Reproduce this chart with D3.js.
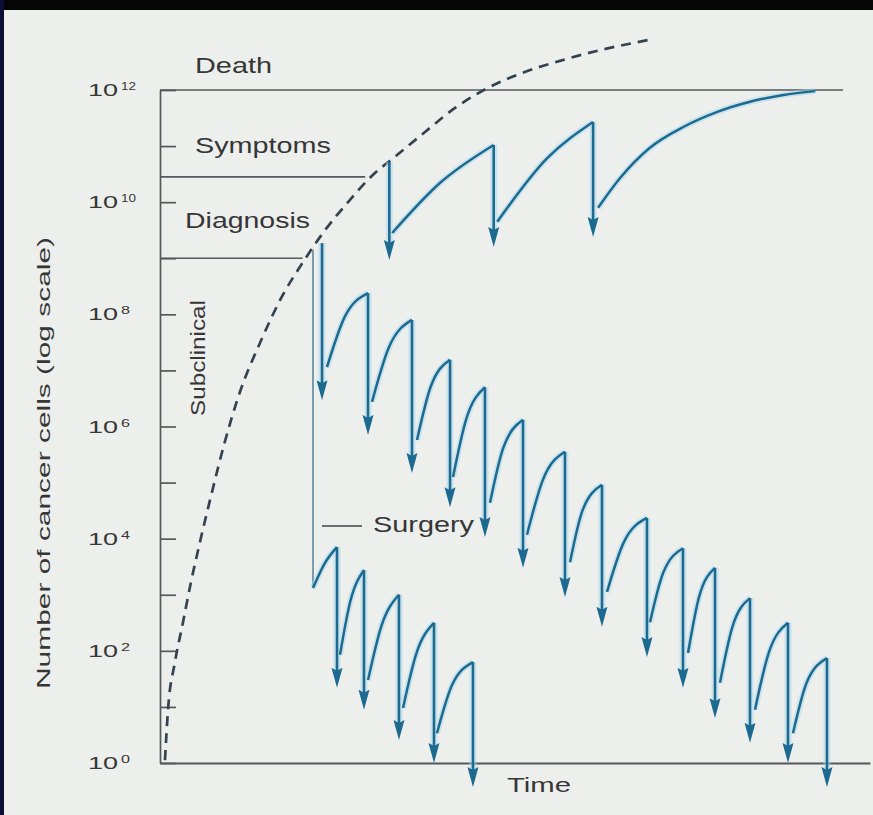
<!DOCTYPE html>
<html><head><meta charset="utf-8">
<script src="https://cdn.jsdelivr.net/npm/d3@7"></script>
<style>body{margin:0;background:#fff}svg{display:block}</style>
</head><body>
<svg id="chart" width="873" height="815"></svg>
<script>
// ---------- DATA (time in arbitrary units, values as log10 of cell number) ----------
const tickExponents = [0, 2, 4, 6, 8, 10, 12];
const allExponents = [0,1,2,3,4,5,6,7,8,9,10,11,12];

// untreated (dashed) growth curve
const untreatedT = [0.70, 1.13, 2.11, 3.24, 4.37, 5.63, 7.32, 9.01, 11.27, 14.08, 17.32, 20.14, 23.24, 26.48, 29.86, 33.38, 37.32, 41.55, 45.63, 50.70, 56.34, 61.97, 68.73];
const untreatedL = [0.05, 0.95, 1.80, 2.51, 3.23, 3.94, 4.83, 5.67, 6.62, 7.49, 8.35, 8.93, 9.50, 10.00, 10.47, 10.84, 11.25, 11.68, 12.00, 12.29, 12.52, 12.71, 12.89];

// reference levels
const deathL = 12, symptomsL = 10.45, diagnosisL = 9.0;
const deathEndT = 96.2, symptomsEndT = 28.9, diagnosisEndT = 20.1;

// chemotherapy started at symptoms (top series)
const topArrowT    = [32.3, 47.0, 61.0];
const topArrowFrom = [10.72, 11.02, 11.43];
const topArrowTo   = [8.97, 9.20, 9.38];
const topStartT = [32.7, 47.5];
const topStartL = [9.45, 9.65];
const topMidT   = [39.5, 54.5];
const topMidL   = [10.35, 10.78];
const topFinalT = [61.7, 64.8, 69.0, 73.7, 78.5, 83.1, 87.8, 92.3];
const topFinalL = [9.90, 10.43, 10.97, 11.34, 11.61, 11.79, 11.91, 11.98];

// chemotherapy started at diagnosis (middle series)
const midArrowT    = [22.82, 29.30, 35.49, 40.85, 45.77, 51.13, 57.04, 62.25, 68.59, 73.66, 78.17, 83.10, 88.45, 93.94];
const midArrowFrom = [9.27, 8.38, 7.90, 7.19, 6.70, 6.12, 5.55, 4.96, 4.37, 3.83, 3.48, 2.94, 2.50, 1.87];
const midArrowTo   = [6.47, 5.85, 5.17, 4.56, 4.03, 3.48, 2.96, 2.43, 1.89, 1.34, 0.80, 0.36, 0.00, -0.43];
const midStartT = [23.52, 29.86, 36.20, 41.27, 46.48, 51.69, 57.75, 62.96, 69.01, 74.37, 78.87, 83.80, 89.15];
const midStartL = [7.06, 6.44, 5.76, 5.10, 4.64, 4.07, 3.58, 3.05, 2.51, 1.96, 1.43, 0.95, 0.53];
const midMidT   = [26.0, 32.2, 38.1, 43.1, 48.3, 53.9, 59.5, 65.3, 70.9, 75.9, 80.6, 85.7, 91.1];
const midMidL   = [7.95, 7.40, 6.70, 6.12, 5.60, 5.04, 4.50, 3.93, 3.40, 2.95, 2.42, 1.95, 1.44];

// surgery followed by chemotherapy (bottom series)
const surgeryT = 21.55, surgeryFrom = 9.15, surgeryTo = 3.12;
const botArrowT    = [24.93, 28.73, 33.66, 38.59, 44.08];
const botArrowFrom = [3.85, 3.44, 3.00, 2.50, 1.80];
const botArrowTo   = [1.34, 0.95, 0.41, 0.00, -0.43];
const botStartT = [21.55, 25.35, 29.30, 34.23, 39.01];
const botStartL = [3.12, 1.93, 1.48, 0.98, 0.53];
const botMidT   = [23.24, 26.8, 31.2, 36.1, 41.1];
const botMidL   = [3.57, 2.88, 2.45, 1.95, 1.38];

// ---------- DRAWING ----------
const W = 873, H = 815;
const blue = "#1d6a91", glow = "#a6d8ec", ink = "#363636", lineGray = "#55595b";
const svg = d3.select("#chart");
svg.append("rect").attr("width", W).attr("height", H).attr("fill", "#edefed");
// scan frame (top and left edges)
svg.append("rect").attr("x", 0).attr("y", 0).attr("width", W).attr("height", 10).attr("fill", "#050505");
svg.append("rect").attr("x", 0).attr("y", 0).attr("width", 4).attr("height", H).attr("fill", "#0c0c36");

const x = d3.scaleLinear().domain([0, 100]).range([160, 870]);
const y = d3.scaleLog().domain([1, 1e12]).range([763, 90]);
const Y = L => y(Math.pow(10, L));
const font = "'Liberation Sans', Arial, Helvetica, sans-serif";

const defs = svg.append("defs");
defs.append("marker").attr("id", "ah").attr("viewBox", "0 -6 20 12")
  .attr("refX", 10).attr("refY", 0).attr("markerWidth", 20).attr("markerHeight", 12)
  .attr("markerUnits", "userSpaceOnUse").attr("orient", "auto")
  .append("path").attr("d", "M0,-5.5L20,0L0,5.5L3,0Z").attr("fill", blue);

// axes
const yAxis = d3.axisLeft(y).tickValues(allExponents.map(e => Math.pow(10, e)))
  .tickSize(-16).tickSizeOuter(0).tickFormat(() => "");
const gy = svg.append("g").attr("transform", `translate(${x(0)},0)`).call(yAxis);
gy.selectAll("path,line").attr("stroke", lineGray).attr("stroke-width", 1.7);

const xAxis = d3.axisBottom(x).tickValues([]).tickSizeOuter(0);
const gx = svg.append("g").attr("transform", `translate(0,${y(1)})`).call(xAxis);
gx.selectAll("path").attr("stroke", lineGray).attr("stroke-width", 1.9);

// tick labels 10^n
tickExponents.forEach(e => {
  const t = svg.append("text").attr("x", 88).attr("y", Y(e) + 6)
    .attr("font-family", font).attr("fill", ink);
  t.append("tspan").attr("font-size", 17).attr("textLength", 30).attr("lengthAdjust", "spacingAndGlyphs").text("10");
  t.append("tspan").attr("font-size", 11).attr("dx", 3).attr("dy", -6)
    .attr("textLength", String(e).length > 1 ? 15 : 9).attr("lengthAdjust", "spacingAndGlyphs").text(String(e));
});

// threshold lines
[[deathL, deathEndT], [symptomsL, symptomsEndT], [diagnosisL, diagnosisEndT]].forEach(([L, tEnd]) => {
  svg.append("line").attr("x1", x(0)).attr("x2", x(tEnd)).attr("y1", Y(L)).attr("y2", Y(L))
    .attr("stroke", lineGray).attr("stroke-width", 1.7);
});

// untreated dashed curve
const line = d3.line().x(d => x(d[0])).y(d => Y(d[1])).curve(d3.curveMonotoneX);
svg.append("path").datum(untreatedT.map((t, i) => [t, untreatedL[i]]))
  .attr("d", line).attr("fill", "none").attr("stroke", "#34434d")
  .attr("stroke-width", 2.7).attr("stroke-dasharray", "10,7");

// surgery vertical line
svg.append("line").attr("x1", x(surgeryT)).attr("x2", x(surgeryT))
  .attr("y1", Y(surgeryFrom)).attr("y2", Y(surgeryTo))
  .attr("stroke", "#6f93a4").attr("stroke-width", 1.8);

// collect regrowth curves
const curves = [];
topStartT.forEach((t, i) => curves.push([[t, topStartL[i]], [topMidT[i], topMidL[i]], [topArrowT[i + 1], topArrowFrom[i + 1]]]));
curves.push(topFinalT.map((t, i) => [t, topFinalL[i]]));
midStartT.forEach((t, i) => curves.push([[t, midStartL[i]], [midMidT[i], midMidL[i]], [midArrowT[i + 1], midArrowFrom[i + 1]]]));
botStartT.forEach((t, i) => curves.push([[t, botStartL[i]], [botMidT[i], botMidL[i]], [botArrowT[i], botArrowFrom[i]]]));

const arrows = [];
topArrowT.forEach((t, i) => arrows.push([t, topArrowFrom[i], topArrowTo[i]]));
midArrowT.forEach((t, i) => arrows.push([t, midArrowFrom[i], midArrowTo[i]]));
botArrowT.forEach((t, i) => arrows.push([t, botArrowFrom[i], botArrowTo[i]]));

const curveLine = d3.line().x(d => x(d[0])).y(d => Y(d[1])).curve(d3.curveMonotoneX);

// glow layer
const gGlow = svg.append("g").attr("opacity", 0.5);
gGlow.selectAll("path").data(curves).join("path").attr("d", curveLine)
  .attr("fill", "none").attr("stroke", glow).attr("stroke-width", 6);
gGlow.selectAll("line").data(arrows).join("line")
  .attr("x1", d => x(d[0])).attr("x2", d => x(d[0]))
  .attr("y1", d => Y(d[1])).attr("y2", d => Y(d[2]) - 12)
  .attr("stroke", glow).attr("stroke-width", 7);

// main layer
const gMain = svg.append("g");
gMain.selectAll("path").data(curves).join("path").attr("d", curveLine)
  .attr("fill", "none").attr("stroke", blue).attr("stroke-width", 2.5);
gMain.selectAll("line").data(arrows).join("line")
  .attr("x1", d => x(d[0])).attr("x2", d => x(d[0]))
  .attr("y1", d => Y(d[1])).attr("y2", d => Y(d[2]) - 10)
  .attr("stroke", blue).attr("stroke-width", 2.6)
  .attr("marker-end", "url(#ah)");

// labels
function label(txt, px, py, size, len, rot) {
  const t = svg.append("text").attr("font-family", font).attr("font-size", size)
    .attr("fill", ink).attr("textLength", len).attr("lengthAdjust", "spacingAndGlyphs").text(txt);
  if (rot) t.attr("transform", `translate(${px},${py}) rotate(-90)`).attr("text-anchor", "middle");
  else t.attr("x", px).attr("y", py);
  return t;
}
label("Death", 195, 73, 22, 77);
label("Symptoms", 195, 153, 22, 136);
label("Diagnosis", 185, 228, 22, 125);
label("Surgery", 373, 532, 22, 101);
label("Time", 507, 792, 21, 64);
label("Subclinical", 205, 358, 21, 116, true);
label("Number of cancer cells (log scale)", 50, 463, 18, 452, true);
svg.append("line").attr("x1", 322).attr("x2", 362).attr("y1", 526).attr("y2", 526)
  .attr("stroke", "#6a6e70").attr("stroke-width", 2);
</script>
</body></html>
